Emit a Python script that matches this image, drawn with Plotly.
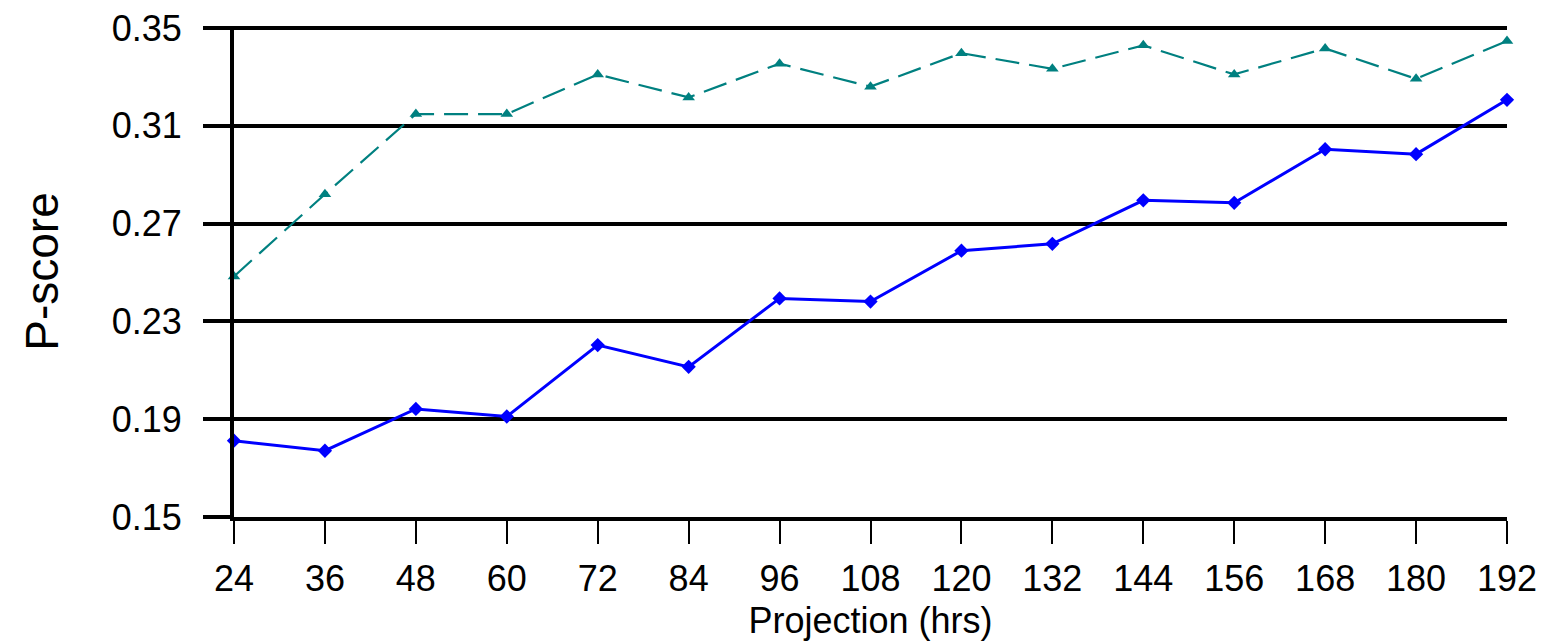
import plotly.graph_objects as go

hours = [24, 36, 48, 60, 72, 84, 96, 108, 120, 132, 144, 156, 168, 180, 192]
teal_series = [0.2484, 0.2820, 0.3148, 0.3148, 0.3310, 0.3216, 0.3354, 0.3260, 0.3397,
               0.3333, 0.3429, 0.3310, 0.3416, 0.3292, 0.3447]
blue_series = [0.1812, 0.1771, 0.1942, 0.1911, 0.2203, 0.2114, 0.2394, 0.2381, 0.2589,
               0.2617, 0.2795, 0.2785, 0.3004, 0.2984, 0.3206]
y_ticks = [0.15, 0.19, 0.23, 0.27, 0.31, 0.35]
y_tick_labels = ["0.15", "0.19", "0.23", "0.27", "0.31", "0.35"]

fig = go.Figure()
fig.add_trace(go.Scatter(
    x=hours, y=teal_series, mode="lines+markers",
    line=dict(color="#008080", width=2.2, dash="24px,10px"),
    marker=dict(symbol="triangle-up", size=11, color="#008080"),
    showlegend=False, cliponaxis=False))
fig.add_trace(go.Scatter(
    x=hours, y=blue_series, mode="lines+markers",
    line=dict(color="#0000FF", width=3),
    marker=dict(symbol="diamond", size=11, color="#0000FF"),
    showlegend=False, cliponaxis=False))

fig.update_layout(
    width=1546, height=643,
    margin=dict(l=226, r=47, t=18, b=134, autoexpand=False),
    paper_bgcolor="white", plot_bgcolor="white",
    font=dict(family="Liberation Sans, Arial, sans-serif", color="black"),
    xaxis=dict(
        range=[24, 192], tickvals=hours, ticktext=[str(h) for h in hours],
        showgrid=False, zeroline=False, automargin=False,
        showline=True, linecolor="black", linewidth=4,
        ticks="outside", ticklen=23, tickwidth=2, tickcolor="black",
        tickfont=dict(family="Liberation Sans Narrow, Liberation Sans, Arial", size=36),
        ticklabelstandoff=4, ticklabeloverflow="allow",
        title=dict(text="Projection (hrs)", standoff=11,
                   font=dict(family="Liberation Sans Narrow, Liberation Sans, Arial", size=36)),
    ),
    yaxis=dict(
        range=[0.15, 0.3508], tickvals=y_ticks, ticktext=y_tick_labels,
        showgrid=True, gridcolor="black", gridwidth=4, zeroline=False, automargin=False,
        showline=True, linecolor="black", linewidth=4,
        ticks="outside", ticklen=27, tickwidth=4, tickcolor="black",
        tickfont=dict(size=36), ticklabelstandoff=14, ticklabeloverflow="allow",
        title=dict(text="P-score", standoff=40, font=dict(size=46)),
    ),
)

fig.write_html("out.html")
